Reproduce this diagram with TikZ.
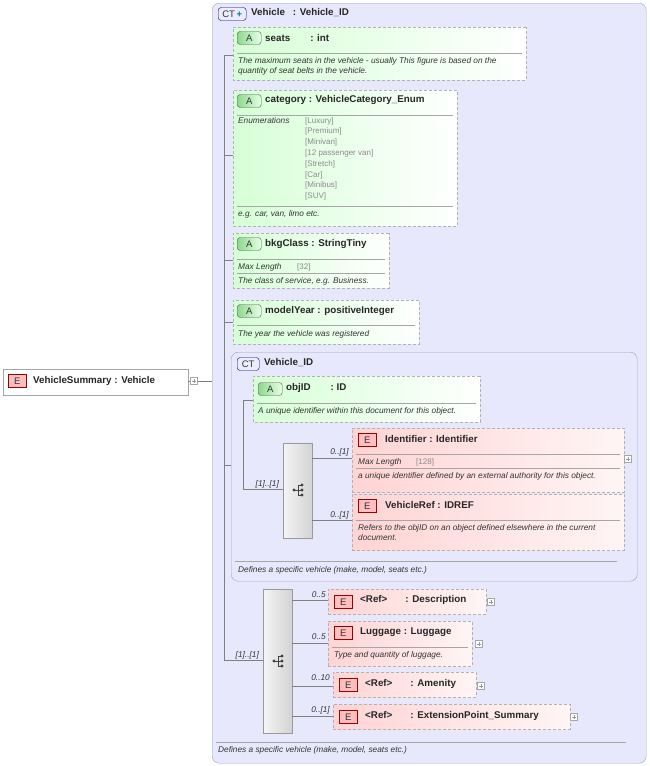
\documentclass[tikz,border=0pt]{standalone}
\usepackage{fontspec}
\setmainfont{Liberation Sans}
\usetikzlibrary{shapes.misc}
\definecolor{ctfill}{HTML}{E8E8FC}
\definecolor{ctline}{HTML}{A0A0B8}
\definecolor{ln}{HTML}{808080}
\definecolor{enumc}{HTML}{8A8A8A}
\tikzset{
 box/.style={inner sep=0,outer sep=0,anchor=north west,draw=gray!60,dash pattern=on 3pt off 2pt},
 attr/.style={box,chamfered rectangle,chamfered rectangle corners={north west,south west},chamfered rectangle xsep=4pt,chamfered rectangle ysep=4pt,left color=green!16,right color=white},
 elem/.style={box,rectangle,left color=red!17,right color=red!4},
 ct/.style={inner sep=0,anchor=north west,draw=ctline,rounded corners=7pt,fill=ctfill},
 seq/.style={inner sep=0,anchor=north west,draw=gray!80,left color=gray!8,right color=gray!35},
 hd/.style={anchor=west,inner sep=0,font=\fontsize{9.8}{10}\selectfont\bfseries,text=black!85},
 ds/.style={anchor=west,inner sep=0,font=\fontsize{8.3}{10}\selectfont\itshape,text=black!80},
 en/.style={anchor=west,inner sep=0,font=\fontsize{8}{9}\selectfont,text=enumc},
 ml/.style={anchor=east,inner sep=0,font=\fontsize{8.3}{9}\selectfont\itshape,text=black!80},
 sep/.style={draw=gray!70},
 con/.style={draw=ln,line width=0.5pt},
 eb/.style={inner sep=0,anchor=west,draw=red!60!black,fill=red!25,minimum width=18pt,minimum height=13pt,font=\fontsize{9.5}{10}\selectfont,text=black!80},
 ab/.style={inner sep=0,anchor=west,draw=gray!70!black,left color=green!50!gray!60,right color=green!10,rounded corners=3pt,minimum width=24pt,minimum height=13pt,font=\fontsize{9.5}{10}\selectfont,text=black!80},
 cb/.style={inner sep=0,anchor=west,draw=blue!40!black,fill=ctfill!70!blue!20,rounded corners=3pt,minimum height=13pt,font=\fontsize{9.5}{10}\selectfont,text=black!80},
 pl/.style={inner sep=0,draw=gray!70,fill=white,minimum size=7pt,path picture={\draw[gray!80] ([xshift=1.5pt]path picture bounding box.west)--([xshift=-1.5pt]path picture bounding box.east) ([yshift=-1.5pt]path picture bounding box.north)--([yshift=1.5pt]path picture bounding box.south);}},
}
\newcommand\bx[6]{\node[#6,minimum width={#4-#2},minimum height={#5-#3}] (#1) at (#2,#3) {};}
\newcommand\seqicon[2]{%
 \fill[black!75] (#1-4,#2) circle (1.6);
 \draw[black!75,line width=0.7pt] (#1-4,#2)--(#1,#2) (#1,#2-5)--(#1,#2+5) (#1,#2-5)--(#1+4,#2-5) (#1,#2)--(#1+4,#2) (#1,#2+5)--(#1+4,#2+5);
 \fill[black!75] (#1+4,#2-5) circle (1.6) (#1+4,#2) circle (1.6) (#1+4,#2+5) circle (1.6);}
\begin{document}
\begin{tikzpicture}[x=1pt,y=-1pt]
\useasboundingbox (0,0) rectangle (650,766);
% root
\bx{root}{3}{369}{188}{395}{box,rectangle,solid,draw=gray!70,fill=white}
\node[eb] (rootE) at (8,381) {E};
\node[hd] at (33,381) {VehicleSummary : Vehicle};
\node[pl] (rootP) at (194,381) {};
\draw[con] (root.east|-rootP) -- (rootP.west);
% outer CT
\bx{outer}{212}{3}{646}{763}{ct}
\draw[con] (rootP.east) -- (outer.west|-rootP);
\node[cb,minimum width=28pt] at (218,14) {CT\,\textcolor{teal}{\textbf{+}}};
\node[hd] at (251,13) {Vehicle\hspace{8pt}: Vehicle\_ID};
\coordinate (vtop) at (224,55);
\coordinate (vbot) at (224,660);
\draw[con] (vtop) -- (vbot);
% seats
\bx{seats}{233}{27}{526}{80}{attr}
\node[ab] at (237,38) {A};
\node[hd] at (265,38) {seats\hspace{20pt}: int};
\draw[sep] (237,53) -- (522,53);
\node[ds] at (238,61) {The maximum seats in the vehicle - usually This figure is based on the};
\node[ds] at (238,71) {quantity of seat belts in the vehicle.};
\draw[con] (vtop) -- (seats.west|-vtop);
% category
\bx{cat}{233}{90}{457}{226}{attr}
\node[ab] at (237,101) {A};
\node[hd] at (265,100) {category : VehicleCategory\_Enum};
\draw[sep] (237,115) -- (453,115);
\node[ds] at (238,121) {Enumerations};
\foreach \t [count=\i from 0] in {[Luxury],[Premium],[Minivan],[12 passenger van],[Stretch],[Car],[Minibus],[SUV]}
  \node[en] at (305,121+\i*10.8) {\t};
\draw[sep] (237,206) -- (453,206);
\node[ds] at (238,214) {e.g. car, van, limo etc.};
\draw[con] (224,155) -- (cat.west|-0,155);
% bkgClass
\bx{bkg}{233}{233}{389}{288}{attr}
\node[ab] at (237,244) {A};
\node[hd] at (265,244) {bkgClass : StringTiny};
\draw[sep] (237,259) -- (385,259);
\node[ds] at (238,267) {Max Length};
\node[en] at (297,267) {[32]};
\draw[sep] (237,273) -- (385,273);
\node[ds] at (238,281) {The class of service, e.g. Business.};
\draw[con] (224,260) -- (bkg.west|-0,260);
% modelYear
\bx{my}{233}{300}{419}{344}{attr}
\node[ab] at (237,311) {A};
\node[hd] at (265,311) {modelYear : positiveInteger};
\draw[sep] (237,325) -- (415,325);
\node[ds] at (238,334) {The year the vehicle was registered};
\draw[con] (224,322) -- (my.west|-0,322);
% Vehicle_ID CT
\bx{vid}{231}{352}{637}{581}{ct}
\node[cb,minimum width=22pt] at (237,364) {CT};
\node[hd] at (264,363) {Vehicle\_ID};
\draw[con] (224,465) -- (vid.west|-0,465);
\draw[con] (243,400) -- (243,489);
\bx{obj}{253}{376}{480}{422}{attr}
\node[ab] at (258,389) {A};
\node[hd] at (286,388) {objID\hspace{20pt}: ID};
\draw[sep] (257,403) -- (476,403);
\node[ds] at (258,411) {A unique identifier within this document for this object.};
\draw[con] (243,400) -- (obj.west|-0,400);
\bx{seq1}{283}{443}{312}{538}{seq}
\seqicon{298}{490}
\draw[con] (243,489) -- (seq1.west|-0,489);
\node[ml] at (279,484) {[1]..[1]};
\bx{ident}{352}{428}{624}{492}{elem}
\node[eb] at (358,440) {E};
\node[hd] at (385,439) {Identifier : Identifier};
\draw[sep] (356,454) -- (620,454);
\node[ds] at (358,462) {Max Length};
\node[en] at (416,462) {[128]};
\draw[sep] (356,468) -- (620,468);
\node[ds] at (358,476) {a unique identifier defined by an external authority for this object.};
\node[pl] at (628,459) {};
\draw[con] (seq1.east|-0,458) -- (ident.west|-0,458);
\node[ml] at (349,452) {0..[1]};
\bx{vref}{352}{494}{624}{550}{elem}
\node[eb] at (358,506) {E};
\node[hd] at (385,505) {VehicleRef : IDREF};
\draw[sep] (356,520) -- (620,520);
\node[ds] at (358,528) {Refers to the objID on an object defined elsewhere in the current};
\node[ds] at (358,538) {document.};
\draw[con] (seq1.east|-0,520) -- (vref.west|-0,520);
\node[ml] at (349,515) {0..[1]};
\draw[sep] (235,561) -- (617,561);
\node[ds] at (238,570) {Defines a specific vehicle (make, model, seats etc.)};
% sequence 2
\bx{seq2}{263}{589}{292}{733}{seq}
\seqicon{278}{661}
\draw[con] (vbot) -- (seq2.west|-vbot);
\node[ml] at (259,655) {[1]..[1]};
\bx{desc}{328}{589}{486}{614}{elem}
\node[eb] at (334,602) {E};
\node[hd] at (360,600) {<Ref>\hspace{18pt}: Description};
\node[pl] at (491,602) {};
\draw[con] (seq2.east|-0,600) -- (desc.west|-0,600);
\node[ml] at (326,595) {0..5};
\bx{lug}{328}{621}{472}{666}{elem}
\node[eb] at (334,633) {E};
\node[hd] at (360,632) {Luggage : Luggage};
\draw[sep] (332,647) -- (468,647);
\node[ds] at (334,655) {Type and quantity of luggage.};
\node[pl] at (479,644) {};
\draw[con] (seq2.east|-0,643) -- (lug.west|-0,643);
\node[ml] at (326,637) {0..5};
\bx{amen}{333}{672}{476}{697}{elem}
\node[eb] at (339,685) {E};
\node[hd] at (365,684) {<Ref>\hspace{18pt}: Amenity};
\node[pl] at (481,686) {};
\draw[con] (seq2.east|-0,686) -- (amen.west|-0,686);
\node[ml] at (330,678) {0..10};
\bx{ext}{333}{704}{570}{729}{elem}
\node[eb] at (339,717) {E};
\node[hd] at (365,716) {<Ref>\hspace{18pt}: ExtensionPoint\_Summary};
\node[pl] at (574,717) {};
\draw[con] (seq2.east|-0,716) -- (ext.west|-0,716);
\node[ml] at (330,710) {0..[1]};
\draw[sep] (216,742) -- (626,742);
\node[ds] at (218,750) {Defines a specific vehicle (make, model, seats etc.)};
\end{tikzpicture}
\end{document}
